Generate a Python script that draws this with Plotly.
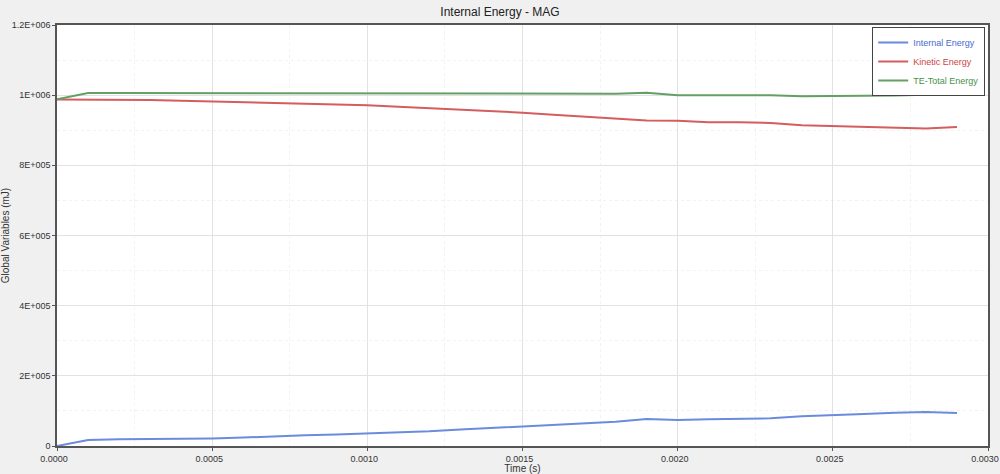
import plotly.graph_objects as go

time_s = [i * 0.0001 for i in range(30)]
internal_energy = [0, 17000, 19000, 19500, 21000, 21500, 24000, 28000, 30500, 33000,
                   35500, 38000, 42000, 47000, 51000, 55000, 59000, 64000, 69000, 77000,
                   74000, 76500, 77000, 79000, 85000, 87000, 91000, 95000, 97000, 94000]
kinetic_energy = [988000, 988000, 986000, 986000, 984000, 982000, 980000, 978000, 976000, 973000,
                  971000, 967000, 963000, 959000, 954000, 950000, 944000, 939000, 933000, 928000,
                  927000, 923000, 923000, 921000, 914000, 912000, 910000, 907000, 905000, 909000]
total_energy = [988000, 1006000, 1006000, 1006000, 1006000, 1006000, 1006000, 1006000, 1006000, 1006000,
                1004000, 1004000, 1004000, 1004000, 1004000, 1004000, 1004000, 1004000, 1004000, 1007000,
                1000000, 1000000, 1000000, 1000000, 997000, 997000, 997000, 999000, 1001000, 1001000]

y_tickvals = [0, 200000, 400000, 600000, 800000, 1000000, 1200000]
y_ticktext = ["0", "2E+005", "4E+005", "6E+005", "8E+005", "1E+006", "1.2E+006"]
x_tickvals = [0, 0.0005, 0.0010, 0.0015, 0.0020, 0.0025, 0.0030]
x_ticktext = ["0.0000", "0.0005", "0.0010", "0.0015", "0.0020", "0.0025", "0.0030"]

series = [
    ("Internal Energy", internal_energy, "#6b8bdc", "#4a6ad0"),
    ("Kinetic Energy", kinetic_energy, "#d45d5d", "#cc4444"),
    ("TE-Total Energy", total_energy, "#64a064", "#4a904a"),
]

fig = go.Figure()
for name, vals, col, tcol in series:
    fig.add_trace(go.Scatter(x=time_s, y=vals, mode="lines",
                             name=f"<span style='color:{tcol}'>{name}</span>",
                             line=dict(color=col, width=2)))

fig.update_layout(
    width=1000, height=474,
    margin=dict(l=57, r=12, t=25, b=28),
    paper_bgcolor="#f0f0f0",
    plot_bgcolor="#ffffff",
    font=dict(family="Liberation Sans, Arial, sans-serif", size=9, color="#333333"),
    title=dict(text="Internal Energy - MAG", x=0.5, xanchor="center", y=0.985, yanchor="top",
               font=dict(size=12, color="#222222")),
    showlegend=True,
    legend=dict(x=0.997, y=0.995, xanchor="right", yanchor="top",
                bgcolor="#ffffff", bordercolor="#444444", borderwidth=1,
                font=dict(size=9), tracegroupgap=0, itemwidth=30),
    xaxis=dict(range=[0, 0.003], tickvals=x_tickvals, ticktext=x_ticktext, automargin=False,
               ticklabeloverflow="allow", ticklabelshift=-3,
               showgrid=True, gridcolor="#e2e2e2", gridwidth=1,
               minor=dict(dtick=0.00025, tick0=0, showgrid=True, gridcolor="#f2f2f2", griddash="dot"),
               showline=True, linecolor="#555555", linewidth=1.5, mirror=True,
               ticks="outside", ticklen=3, tickcolor="#555555",
               title=dict(text="Time (s)", standoff=0, font=dict(size=10)),
               zeroline=False),
    yaxis=dict(range=[0, 1200000], tickvals=y_tickvals, ticktext=y_ticktext, automargin=False,
               ticklabeloverflow="allow",
               showgrid=True, gridcolor="#e2e2e2", gridwidth=1,
               minor=dict(dtick=100000, tick0=0, showgrid=True, gridcolor="#f2f2f2", griddash="dot"),
               showline=True, linecolor="#555555", linewidth=1.5, mirror=True,
               ticks="outside", ticklen=3, tickcolor="#555555",
               title=dict(text="Global Variables (mJ)", standoff=0, font=dict(size=10)),
               zeroline=False),
)

fig.write_html("out.html")
